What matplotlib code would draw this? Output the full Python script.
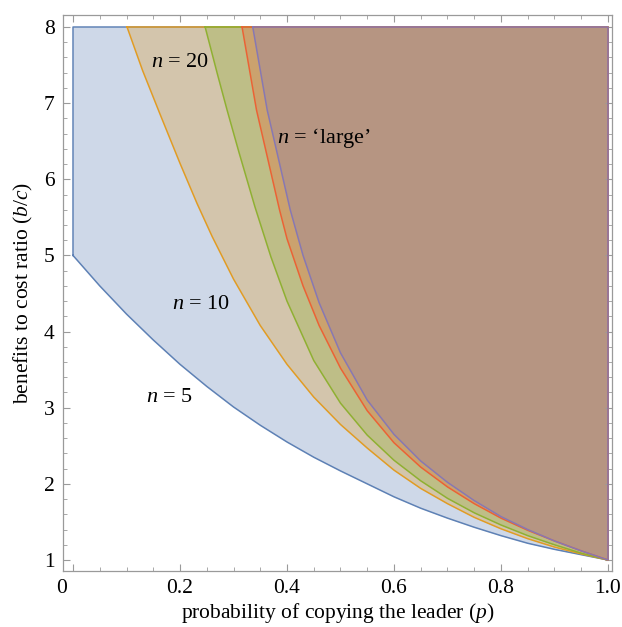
import matplotlib
matplotlib.use("Agg")
import matplotlib.pyplot as plt
import matplotlib.transforms as mtransforms
from matplotlib.ticker import MultipleLocator

# ── Data ──────────────────────────────────────────────────────────────────────
p_n5 = [0.0, 0.05, 0.1, 0.15, 0.2, 0.25, 0.3, 0.35, 0.4, 0.45, 0.5, 0.55, 0.6,
        0.65, 0.7, 0.75, 0.8, 0.85, 0.9, 0.95, 1.0]
bc_n5 = [5.0, 4.60, 4.23, 3.89, 3.57, 3.28, 3.01, 2.77, 2.55, 2.35, 2.17, 2.00,
         1.83, 1.68, 1.55, 1.43, 1.32, 1.22, 1.14, 1.07, 1.0]

p_n10 = [0.101, 0.13, 0.163, 0.2, 0.232, 0.26, 0.3, 0.35, 0.4, 0.45, 0.5, 0.55,
         0.6, 0.65, 0.7, 0.75, 0.8, 0.85, 0.9, 0.95, 1.0]
bc_n10 = [8.0, 7.43, 6.85, 6.21, 5.68, 5.25, 4.69, 4.08, 3.57, 3.14, 2.78, 2.47,
          2.18, 1.94, 1.74, 1.56, 1.41, 1.28, 1.17, 1.08, 1.0]

p_n20 = [0.247, 0.27, 0.288, 0.31, 0.34, 0.37, 0.4, 0.45, 0.5, 0.55, 0.6, 0.65,
         0.7, 0.75, 0.8, 0.85, 0.9, 0.95, 1.0]
bc_n20 = [8.0, 7.38, 6.91, 6.36, 5.64, 4.98, 4.40, 3.62, 3.06, 2.64, 2.31, 2.04,
          1.81, 1.62, 1.46, 1.32, 1.20, 1.09, 1.0]

p_n50 = [0.316, 0.343, 0.386, 0.4, 0.43, 0.46, 0.5, 0.55, 0.6, 0.65, 0.7, 0.75,
         0.8, 0.85, 0.9, 0.95, 1.0]
bc_n50 = [8.0, 6.91, 5.60, 5.22, 4.60, 4.08, 3.52, 2.96, 2.54, 2.22, 1.96, 1.74,
          1.55, 1.39, 1.25, 1.12, 1.0]

p_large = [0.336, 0.363, 0.406, 0.43, 0.46, 0.5, 0.55, 0.6, 0.65, 0.7, 0.75, 0.8,
           0.85, 0.9, 0.95, 1.0]
bc_large = [8.0, 6.91, 5.60, 5.00, 4.38, 3.72, 3.10, 2.65, 2.30, 2.02, 1.78, 1.57,
            1.40, 1.25, 1.12, 1.0]

regions = [
    (p_n5, bc_n5, "#5E81B5"),
    (p_n10, bc_n10, "#E19C24"),
    (p_n20, bc_n20, "#8FB032"),
    (p_n50, bc_n50, "#EB6235"),
    (p_large, bc_large, "#8778B3"),
]

labels = [
    (0.181, 3.13, "$n$ = 5", "center"),
    (0.239, 4.35, "$n$ = 10", "center"),
    (0.200, 7.54, "$n$ = 20", "center"),
    (0.382, 6.54, "$n$ = \u2018large\u2019", "left"),
]

BC_TOP = 8.0

# ── Style ─────────────────────────────────────────────────────────────────────
plt.rcParams["font.family"] = ["Liberation Serif", "DejaVu Serif"]
plt.rcParams["mathtext.fontset"] = "custom"
plt.rcParams["mathtext.rm"] = "Liberation Serif"
plt.rcParams["mathtext.it"] = "Liberation Serif:italic"

FRAME = "#9a9a9a"

fig = plt.figure(figsize=(6.22, 6.27), dpi=100)
ax = fig.add_axes([0.1013, 0.0893, 0.8826, 0.8868])

for ps, bcs, col in regions:
    ax.fill_between(ps, bcs, BC_TOP, color=col, alpha=0.3, linewidth=0)

for ps, bcs, col in regions:
    xs = list(ps) + [1.0, ps[0], ps[0]]
    ys = list(bcs) + [BC_TOP, BC_TOP, bcs[0]]
    ax.plot(xs, ys, color=col, linewidth=1.1, solid_joinstyle="round")

for x, y, txt, ha in labels:
    ax.text(x, y, txt, fontsize=16, ha=ha, va="center")

ax.set_xlim(-0.0187, 1.0075)
ax.set_ylim(0.8555, 8.158)
ax.set_xticks([0, 0.2, 0.4, 0.6, 0.8, 1.0])
ax.set_xticklabels(["0", "0.2", "0.4", "0.6", "0.8", "1.0"])
ax.set_yticks([1, 2, 3, 4, 5, 6, 7, 8])
ax.xaxis.set_minor_locator(MultipleLocator(0.05))
ax.yaxis.set_minor_locator(MultipleLocator(0.2))

ax.tick_params(which="both", direction="in", top=True, right=True,
               color=FRAME, labelsize=15.5, pad=6)
ax.tick_params(which="major", length=5, width=0.8)
ax.tick_params(which="minor", length=3, width=0.6)
for s in ax.spines.values():
    s.set_color(FRAME)
    s.set_linewidth(0.9)

# the "0" label sits a little left of its tick in the original
zero_lbl = ax.get_xticklabels()[0]
zero_lbl.set_transform(zero_lbl.get_transform() +
                       mtransforms.ScaledTranslation(-0.11, 0, fig.dpi_scale_trans))

ax.set_xlabel("probability of copying the leader ($p$)", fontsize=15.5, labelpad=2)
ax.set_ylabel("benefits to cost ratio ($b/c$)", fontsize=15.5, labelpad=6)

fig.savefig("out.png", dpi=100)
